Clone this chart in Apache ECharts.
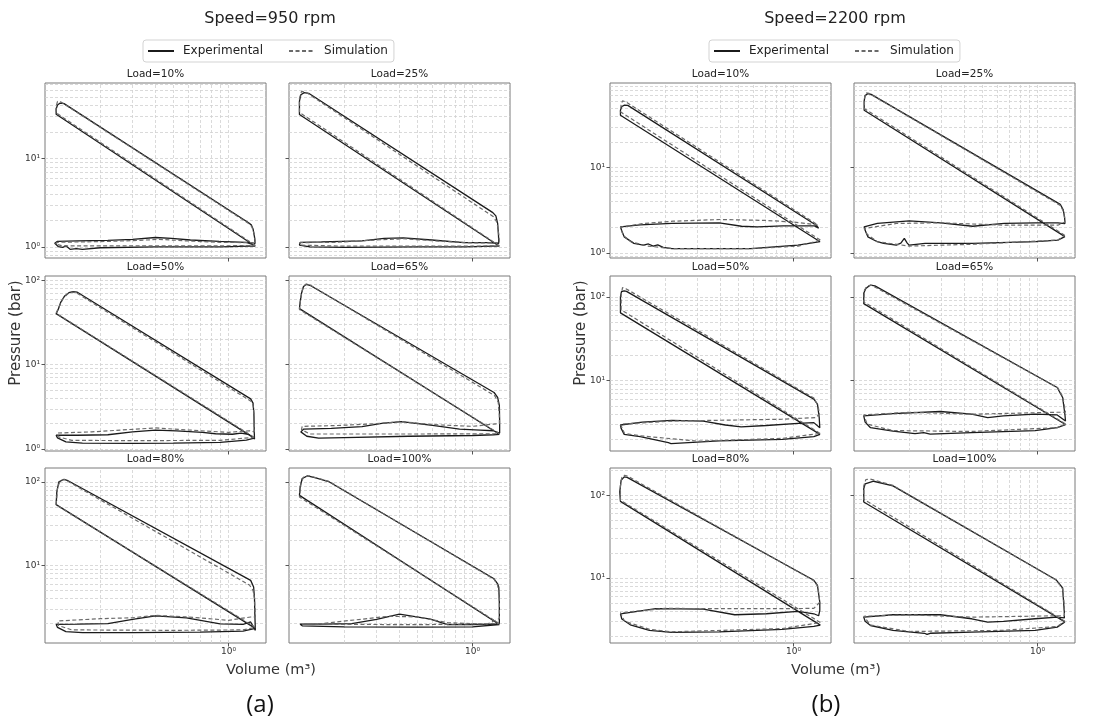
<!DOCTYPE html>
<html><head><meta charset="utf-8">
<script src="https://cdn.jsdelivr.net/npm/echarts@6/dist/echarts.min.js"></script>
<style>html,body{margin:0;padding:0;background:#fff}#c{width:1097px;height:724px}</style>
</head><body><div id="c"></div>
<script>
// ---------- data ----------
const speeds = ['950', '2200'];
const loads = ['10%', '25%', '50%', '65%', '80%', '100%'];
const seriesNames = ['Experimental', 'Simulation'];
const xRange = [0.1, 1.6];
const yRange950 = [[0.75, 72], [0.95, 112], [1.17, 147]];
const yRange2200 = [[0.87, 98], [1.45, 177], [1.64, 214]];
const xTickValues = [1];
const yTickValues = [1, 10, 100];
const gridDecades = [0.1, 1, 10, 100];
const gridMultipliers = [1, 2, 3, 4, 5, 6, 7, 8, 9];

// [Volume m3, Pressure bar]
const exp950_10 = [[1.40,1.02],[0.115,31.8],[0.115,36.5],[0.117,40.5],[0.121,42.7],[0.127,42.0],[1.28,1.89],[1.33,1.78],[1.36,1.60],[1.385,1.30],[1.395,1.10],[1.36,1.06],[1.25,1.13],[0.89,1.16],[0.62,1.20],[0.49,1.25],[0.40,1.28],[0.30,1.22],[0.22,1.19],[0.15,1.17],[0.117,1.16],[0.113,1.10],[0.118,1.01],[0.125,0.99],[0.130,1.03],[0.137,0.94],[0.148,0.96],[0.16,0.94],[0.20,0.98],[0.40,1.00],[0.90,1.00],[1.30,1.02],[1.40,1.02]];
const sim950_10 = [[1.40,1.04],[0.115,33.0],[0.115,39.0],[0.117,44.5],[0.122,44.0],[1.28,1.86],[1.34,1.70],[1.38,1.40],[1.40,1.12],[1.25,1.12],[0.90,1.13],[0.60,1.17],[0.42,1.22],[0.30,1.18],[0.20,1.15],[0.117,1.13],[0.114,1.08],[0.125,1.03],[0.30,1.03],[0.90,1.03],[1.40,1.04]];

const exp950_25 = [[1.40,1.02],[0.114,31.7],[0.114,45],[0.116,53],[0.121,56],[0.128,55],[1.29,2.45],[1.34,2.25],[1.37,1.85],[1.385,1.35],[1.39,1.10],[1.20,1.12],[0.90,1.12],[0.60,1.20],[0.42,1.27],[0.33,1.25],[0.25,1.17],[0.15,1.14],[0.115,1.13],[0.114,1.05],[0.13,1.00],[0.20,0.99],[0.50,1.00],[0.90,1.00],[1.30,1.02],[1.40,1.02]];
const sim950_25 = [[1.40,1.03],[0.114,33.5],[0.114,48],[0.117,58],[0.123,57],[1.30,2.20],[1.36,1.90],[1.39,1.40],[1.40,1.12],[1.00,1.11],[0.60,1.18],[0.42,1.24],[0.30,1.20],[0.18,1.13],[0.115,1.12],[0.115,1.05],[0.20,1.02],[0.90,1.02],[1.40,1.03]];

const exp950_50 = [[1.38,1.35],[0.115,40.2],[0.118,45],[0.122,55],[0.128,65],[0.135,71],[0.142,73],[0.150,72],[1.32,3.93],[1.36,3.50],[1.375,2.60],[1.38,1.65],[1.385,1.32],[1.30,1.48],[1.17,1.55],[1.05,1.50],[0.85,1.52],[0.72,1.58],[0.52,1.64],[0.40,1.68],[0.30,1.60],[0.22,1.48],[0.15,1.46],[0.115,1.46],[0.117,1.36],[0.13,1.22],[0.16,1.18],[0.30,1.17],[0.50,1.18],[0.90,1.20],[1.25,1.28],[1.38,1.35]];
const sim950_50 = [[1.38,1.38],[0.115,40.5],[0.119,48],[0.125,60],[0.133,69],[0.140,72],[0.148,71],[1.35,3.60],[1.37,3.00],[1.38,2.00],[1.38,1.60],[1.30,1.65],[1.00,1.58],[0.70,1.65],[0.40,1.78],[0.28,1.70],[0.18,1.60],[0.117,1.55],[0.118,1.40],[0.14,1.27],[0.30,1.26],[0.90,1.27],[1.38,1.38]];

const exp950_65 = [[1.40,1.50],[0.114,46],[0.115,55],[0.117,70],[0.120,84],[0.124,89],[0.130,87],[1.31,4.68],[1.37,4.10],[1.40,3.30],[1.405,2.14],[1.405,1.55],[1.30,1.65],[1.10,1.68],[0.85,1.72],[0.62,1.90],[0.41,2.12],[0.32,2.02],[0.25,1.85],[0.17,1.76],[0.12,1.72],[0.116,1.60],[0.125,1.42],[0.145,1.35],[0.20,1.37],[0.45,1.42],[1.00,1.45],[1.30,1.48],[1.40,1.50]];
const sim950_65 = [[1.40,1.52],[0.114,45],[0.116,62],[0.119,82],[0.124,90],[0.130,88],[1.32,4.30],[1.38,3.60],[1.40,2.50],[1.40,2.00],[1.30,1.98],[1.00,1.86],[0.60,1.95],[0.41,2.12],[0.30,2.00],[0.18,1.90],[0.118,1.86],[0.117,1.70],[0.13,1.51],[0.50,1.51],[1.40,1.52]];

const exp950_80 = [[1.40,1.75],[0.115,53.5],[0.116,76],[0.119,100],[0.127,107.7],[0.132,104.7],[1.32,6.6],[1.37,5.5],[1.385,4.0],[1.39,2.75],[1.40,1.66],[1.32,2.09],[1.20,1.96],[0.90,1.98],[0.59,2.34],[0.40,2.47],[0.30,2.25],[0.22,2.00],[0.15,1.97],[0.115,1.96],[0.117,1.80],[0.13,1.60],[0.16,1.56],[0.30,1.56],[0.70,1.58],[1.20,1.62],[1.40,1.75]];
const sim950_80 = [[1.40,1.80],[0.115,53],[0.117,85],[0.121,104],[0.128,107],[1.30,5.8],[1.36,5.0],[1.385,4.0],[1.40,2.4],[1.32,2.4],[1.00,2.19],[0.60,2.40],[0.40,2.51],[0.30,2.35],[0.20,2.29],[0.118,2.15],[0.118,1.90],[0.14,1.68],[0.50,1.66],[1.20,1.68],[1.40,1.80]];

const exp950_100 = [[1.40,1.95],[0.114,69],[0.115,87],[0.118,110],[0.126,118],[0.14,112],[0.166,100],[1.31,6.9],[1.37,6.0],[1.39,5.47],[1.40,3.5],[1.40,2.0],[1.30,1.97],[1.00,1.94],[0.73,1.94],[0.59,2.26],[0.40,2.60],[0.30,2.25],[0.22,2.00],[0.15,1.97],[0.115,1.97],[0.118,1.88],[0.20,1.83],[0.50,1.81],[1.00,1.83],[1.40,1.95]];
const sim950_100 = [[1.40,2.00],[0.114,66],[0.116,95],[0.120,115],[0.130,118],[0.166,101],[1.31,6.8],[1.37,5.8],[1.40,4.0],[1.40,2.3],[1.20,1.97],[0.73,2.05],[0.50,2.40],[0.35,2.45],[0.25,2.26],[0.15,2.00],[0.118,1.97],[0.12,1.94],[0.50,1.94],[1.40,2.00]];

const exp2200_10 = [[1.395,1.35],[0.114,41],[0.114,47],[0.116,52],[0.120,54],[0.125,53.5],[1.33,2.11],[1.37,1.95],[1.39,1.86],[1.36,1.98],[1.30,2.07],[1.066,2.07],[0.874,2.07],[0.635,2.02],[0.521,2.05],[0.394,2.25],[0.217,2.21],[0.146,2.13],[0.114,2.02],[0.116,1.80],[0.1195,1.54],[0.135,1.29],[0.152,1.23],[0.162,1.27],[0.172,1.20],[0.182,1.24],[0.195,1.16],[0.217,1.12],[0.583,1.12],[1.057,1.23],[1.395,1.35]];
const sim2200_10 = [[1.40,1.41],[0.114,45],[0.115,55],[0.117,60.5],[0.122,59],[1.36,2.11],[1.38,2.05],[1.30,2.15],[1.00,2.30],[0.70,2.40],[0.40,2.46],[0.22,2.35],[0.15,2.20],[0.114,2.00],[0.118,1.60],[0.13,1.35],[0.16,1.20],[0.22,1.12],[0.60,1.12],[1.06,1.20],[1.40,1.41]];

const exp2200_25 = [[1.41,1.55],[0.1136,47],[0.1136,60],[0.115,70],[0.119,73.6],[0.124,72],[1.33,3.70],[1.38,3.20],[1.405,2.60],[1.41,2.20],[1.29,2.25],[0.98,2.25],[0.659,2.21],[0.443,2.05],[0.297,2.25],[0.20,2.37],[0.134,2.21],[0.1135,2.02],[0.116,1.75],[0.119,1.54],[0.134,1.35],[0.145,1.29],[0.17,1.23],[0.18,1.30],[0.188,1.48],[0.195,1.30],[0.20,1.23],[0.244,1.29],[0.443,1.29],[0.98,1.35],[1.29,1.41],[1.41,1.55]];
const sim2200_25 = [[1.41,1.60],[0.114,49],[0.114,65],[0.116,75],[0.121,74],[1.33,3.60],[1.39,3.00],[1.41,2.30],[1.29,2.11],[0.659,2.11],[0.297,2.25],[0.17,2.21],[0.1135,1.93],[0.118,1.65],[0.134,1.35],[0.20,1.20],[0.443,1.26],[1.29,1.41],[1.41,1.60]];

const exp2200_50 = [[1.395,2.29],[0.114,64.3],[0.114,100],[0.1155,115],[0.1195,118],[0.123,116],[1.29,6.03],[1.35,5.25],[1.38,3.63],[1.39,2.75],[1.29,3.16],[1.057,3.10],[0.711,2.92],[0.518,2.81],[0.425,2.96],[0.322,3.30],[0.217,3.37],[0.15,3.20],[0.114,2.96],[0.115,2.70],[0.1195,2.29],[0.146,2.15],[0.208,1.82],[0.215,1.78],[0.393,1.91],[0.867,2.00],[1.29,2.15],[1.395,2.29]];
const sim2200_50 = [[1.395,2.35],[0.115,70],[0.115,105],[0.117,129],[0.122,125],[1.29,6.2],[1.36,5.0],[1.385,4.0],[1.32,3.63],[1.29,3.60],[0.867,3.47],[0.393,3.37],[0.217,3.30],[0.114,3.03],[0.12,2.35],[0.146,2.20],[0.30,1.90],[0.867,2.05],[1.395,2.35]];

const exp2200_65 = [[1.42,3.00],[0.113,83],[0.113,110],[0.116,126],[0.123,138],[0.13,135],[1.28,8.3],[1.37,6.3],[1.41,3.95],[1.42,3.30],[1.28,3.90],[0.969,4.00],[0.652,3.80],[0.535,3.63],[0.438,3.98],[0.295,4.29],[0.163,4.05],[0.113,3.80],[0.115,3.20],[0.123,2.75],[0.163,2.50],[0.215,2.33],[0.24,2.40],[0.26,2.30],[0.438,2.40],[0.969,2.54],[1.28,2.75],[1.42,3.00]];
const sim2200_65 = [[1.42,3.05],[0.113,87],[0.114,120],[0.118,135],[0.125,137],[1.29,8.2],[1.37,6.5],[1.41,4.6],[1.42,4.2],[1.28,4.2],[0.438,3.98],[0.20,4.2],[0.113,3.9],[0.118,3.03],[0.163,2.54],[0.438,2.48],[1.28,2.75],[1.42,3.05]];

const exp2200_80 = [[1.40,2.70],[0.114,84.6],[0.113,110],[0.115,152],[0.1195,167],[0.124,165],[1.29,9.4],[1.35,8.15],[1.39,5.1],[1.39,4.06],[1.37,3.50],[1.29,3.70],[1.057,3.95],[0.711,3.70],[0.478,3.60],[0.322,4.20],[0.178,4.26],[0.114,3.70],[0.116,3.20],[0.129,2.72],[0.164,2.33],[0.217,2.20],[0.393,2.24],[0.867,2.40],[1.29,2.60],[1.40,2.70]];
const sim2200_80 = [[1.40,2.90],[0.114,87],[0.114,130],[0.116,165],[0.12,175],[0.125,170],[1.29,9.3],[1.36,7.8],[1.39,5.1],[1.29,4.3],[0.867,4.26],[0.40,4.26],[0.20,4.3],[0.114,3.8],[0.12,3.0],[0.164,2.4],[0.217,2.24],[0.867,2.45],[1.40,2.90]];

const exp2200_100 = [[1.41,2.95],[0.113,83],[0.113,120],[0.115,138],[0.128,148],[0.163,130],[1.26,9.55],[1.37,7.6],[1.40,3.8],[1.40,3.3],[1.28,3.37],[0.969,3.22],[0.652,2.99],[0.535,2.94],[0.438,3.22],[0.295,3.60],[0.163,3.60],[0.113,3.37],[0.115,3.00],[0.123,2.67],[0.163,2.33],[0.242,2.15],[0.25,2.08],[0.26,2.15],[0.438,2.22],[0.969,2.33],[1.28,2.55],[1.41,2.95]];
const sim2200_100 = [[1.41,3.00],[0.113,89.5],[0.113,130],[0.116,155],[0.122,158],[0.163,132],[1.26,9.5],[1.37,7.4],[1.40,4.5],[1.40,3.5],[1.28,3.5],[0.438,3.37],[0.20,3.6],[0.113,3.45],[0.123,2.7],[0.20,2.26],[0.652,2.33],[1.28,2.6],[1.41,3.00]];

const panels = [
  [exp950_10, sim950_10], [exp950_25, sim950_25], [exp950_50, sim950_50],
  [exp950_65, sim950_65], [exp950_80, sim950_80], [exp950_100, sim950_100],
  [exp2200_10, sim2200_10], [exp2200_25, sim2200_25], [exp2200_50, sim2200_50],
  [exp2200_65, sim2200_65], [exp2200_80, sim2200_80], [exp2200_100, sim2200_100]
];

// ---------- layout ----------
const colLefts = [[45, 289], [610, 854]];
const rowTops = [83, 276, 468];
const PW = 221, PH = 175;
const FONT = "'DejaVu Sans', sans-serif";
const SUP = {'-1': '\u207B\u00B9', '0': '\u2070', '1': '\u00B9', '2': '\u00B2', '3': '\u00B3'};
function fmt(v) {
  const e = Math.log10(v), r = Math.round(e);
  return Math.abs(e - r) < 1e-6 ? '10' + SUP[String(r)] : '';
}
function gridLines(yr) {
  const out = [];
  gridDecades.forEach(d => gridMultipliers.forEach(m => {
    const v = +(d * m).toPrecision(6);
    if (v > xRange[0] * 1.001 && v < xRange[1] * 0.999) out.push({xAxis: v});
    if (v > yr[0] * 1.001 && v < yr[1] * 0.999) out.push({yAxis: v});
  }));
  return out;
}

const grid = [], xAxis = [], yAxis = [], series = [], graphic = [];
for (let s = 0; s < 2; s++) {
  for (let li = 0; li < 6; li++) {
    const idx = s * 6 + li;
    const row = Math.floor(li / 2), col = li % 2;
    const left = colLefts[s][col], top = rowTops[row];
    const yr = (s === 0 ? yRange950 : yRange2200)[row];
    grid.push({left: left, top: top, width: PW, height: PH, show: true,
      borderColor: '#7a7a7a', borderWidth: 1, backgroundColor: '#fff'});
    xAxis.push({type: 'log', logBase: 10, gridIndex: idx, min: xRange[0], max: xRange[1],
      axisLine: {show: false},
      axisTick: {show: true, length: 3.5, customValues: xTickValues, lineStyle: {color: '#555'}},
      axisLabel: {show: row === 2, customValues: xTickValues, formatter: fmt, fontSize: 9,
        fontFamily: FONT, color: '#333', margin: 4},
      splitLine: {show: false}, minorTick: {show: false}});
    yAxis.push({type: 'log', logBase: 10, gridIndex: idx, min: yr[0], max: yr[1],
      axisLine: {show: false},
      axisTick: {show: true, length: 3.5, customValues: yTickValues.filter(v => v >= yr[0] && v <= yr[1]), lineStyle: {color: '#555'}},
      axisLabel: {show: col === 0, customValues: yTickValues.filter(v => v >= yr[0] && v <= yr[1]),
        formatter: fmt, fontSize: 9, fontFamily: FONT, color: '#333', margin: 5},
      splitLine: {show: false}});
    series.push({type: 'line', name: seriesNames[0], xAxisIndex: idx, yAxisIndex: idx,
      data: panels[idx][0], symbol: 'none', showSymbol: false, silent: true, z: 3,
      lineStyle: {color: '#1b1b1b', width: 1.3}, itemStyle: {color: '#1b1b1b'},
      markLine: {silent: true, symbol: ['none', 'none'], z: 1, animation: false,
        label: {show: false}, emphasis: {disabled: true},
        lineStyle: {color: '#d0d0d0', width: 0.8, type: [3, 2]},
        data: gridLines(yr)}});
    series.push({type: 'line', name: seriesNames[1], xAxisIndex: idx, yAxisIndex: idx,
      data: panels[idx][1], symbol: 'none', showSymbol: false, silent: true, z: 4,
      lineStyle: {color: '#6a6a6a', width: 1.2, type: [4, 2.5]}, itemStyle: {color: '#6a6a6a'}});
    graphic.push({type: 'text', x: left + PW / 2, y: top - 8.5, silent: true,
      style: {text: 'Load=' + loads[li], fill: '#222', font: '10.5px ' + FONT,
        align: 'center', verticalAlign: 'middle', textAlign: 'center', textVerticalAlign: 'middle'}});
  }
}

function txt(t, x, y, size, opts) {
  const o = Object.assign({rot: 0, font: FONT, color: '#222'}, opts || {});
  return {type: 'text', x: x, y: y, rotation: o.rot, silent: true,
    style: {text: t, fill: o.color, font: size + 'px ' + o.font,
      align: 'center', verticalAlign: 'middle', textAlign: 'center', textVerticalAlign: 'middle'}};
}
graphic.push(txt('Speed=' + speeds[0] + ' rpm', 270, 19, 16));
graphic.push(txt('Speed=' + speeds[1] + ' rpm', 835, 19, 16));
graphic.push(txt('Pressure (bar)', 16, 333, 15, {rot: Math.PI / 2, color: '#333'}));
graphic.push(txt('Pressure (bar)', 581, 333, 15, {rot: Math.PI / 2, color: '#333'}));
graphic.push(txt('Volume (m\u00B3)', 271, 670, 14.5, {color: '#333'}));
graphic.push(txt('Volume (m\u00B3)', 836, 670, 14.5, {color: '#333'}));
graphic.push(txt('(a)', 260, 705, 24, {font: "'Open Sans', 'Liberation Sans', sans-serif", color: '#111'}));
graphic.push(txt('(b)', 826, 705, 24, {font: "'Open Sans', 'Liberation Sans', sans-serif", color: '#111'}));

const legendBase = {data: seriesNames, top: 40, orient: 'horizontal',
  padding: [5, 6, 5, 4], itemWidth: 26, itemHeight: 10, itemGap: 25,
  borderColor: '#d3d3d3', borderWidth: 1, borderRadius: 3, backgroundColor: '#fff',
  itemStyle: {opacity: 0}, selectedMode: false,
  textStyle: {fontSize: 12, fontFamily: FONT, color: '#222', padding: [0, 0, 0, 4]}};

const chart = echarts.init(document.getElementById('c'), null, {renderer: 'canvas'});
chart.setOption({
  backgroundColor: '#fff',
  animation: false,
  legend: [Object.assign({left: 143}, legendBase), Object.assign({left: 709}, legendBase)],
  grid: grid, xAxis: xAxis, yAxis: yAxis, series: series, graphic: graphic
});
</script></body></html>
